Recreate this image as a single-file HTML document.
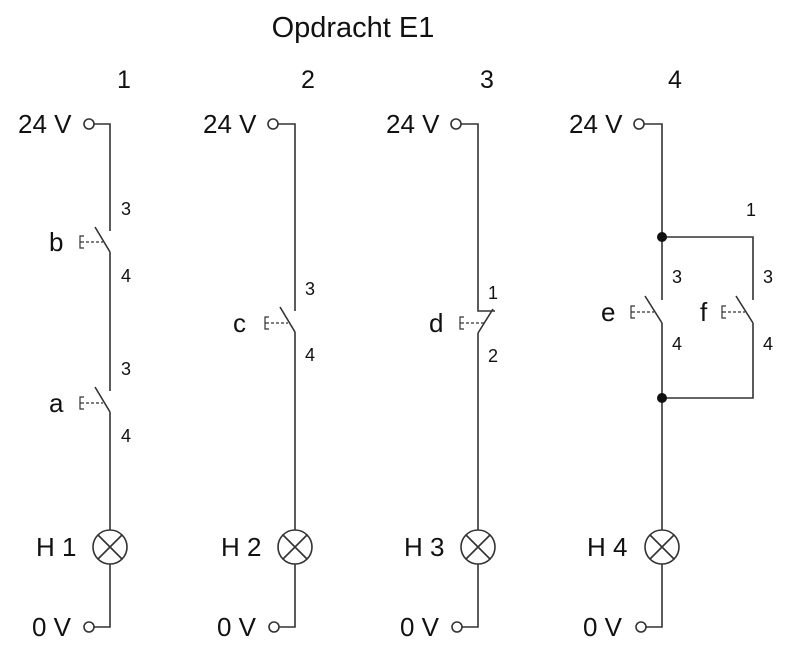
<!DOCTYPE html>
<html><head><style>body{margin:0;background:#fff}svg{display:block}</style></head><body>
<svg width="800" height="660" viewBox="0 0 800 660" xmlns="http://www.w3.org/2000/svg" font-family="Liberation Sans, Arial, sans-serif" fill="#111">
<rect width="800" height="660" fill="#fff"/>
<text x="353" y="37" font-size="29" text-anchor="middle">Opdracht E1</text>
<g font-size="25" text-anchor="middle">
<text x="124" y="88">1</text><text x="308" y="88">2</text><text x="487" y="88">3</text><text x="675" y="88">4</text>
</g>
<g font-size="26">
<text x="18" y="133">24 V</text><text x="203" y="133">24 V</text><text x="386" y="133">24 V</text><text x="569" y="133">24 V</text>
<text x="32" y="636">0 V</text><text x="217" y="636">0 V</text><text x="400" y="636">0 V</text><text x="583" y="636">0 V</text>
<text x="36" y="556">H 1</text><text x="221" y="556">H 2</text><text x="404" y="556">H 3</text><text x="587" y="556">H 4</text>
<text x="49" y="251">b</text><text x="49" y="412">a</text><text x="233" y="332">c</text><text x="429" y="332">d</text>
<text x="601" y="321">e</text><text x="700" y="321">f</text>
</g>
<g font-size="18">
<text x="121" y="215">3</text><text x="121" y="282">4</text>
<text x="121" y="375">3</text><text x="121" y="442">4</text>
<text x="305" y="295">3</text><text x="305" y="361">4</text>
<text x="488" y="299">1</text><text x="488" y="362">2</text>
<text x="672" y="283">3</text><text x="672" y="350">4</text>
<text x="763" y="283">3</text><text x="763" y="350">4</text>
<text x="746" y="216">1</text>
</g>
<g stroke="#333" stroke-width="1.6" fill="none">
<circle cx="89" cy="124" r="5"/><path d="M94 124H110V231M95 227L110 252M110 252V391M95 387L110 412M110 412V530"/>
<circle cx="110" cy="547" r="17"/><path d="M98 535L122 559M122 535L98 559M110 564V627H94"/><circle cx="89" cy="627" r="5"/>
<circle cx="273" cy="124" r="5"/><path d="M278 124H295V311M280 307L295 332M295 332V530"/>
<circle cx="295" cy="547" r="17"/><path d="M283 535L307 559M307 535L283 559M295 564V627H279"/><circle cx="274" cy="627" r="5"/>
<circle cx="456" cy="124" r="5"/><path d="M461 124H478V311H495M493 309L478 333M478 333V530"/>
<circle cx="478" cy="547" r="17"/><path d="M466 535L490 559M490 535L466 559M478 564V627H462"/><circle cx="457" cy="627" r="5"/>
<circle cx="639" cy="124" r="5"/><path d="M644 124H662V300M645 296L662 323M662 323V530M662 237H753V300M736 296L753 323M753 323V398H662"/>
<circle cx="662" cy="547" r="17"/><path d="M650 535L674 559M674 535L650 559M662 564V627H646"/><circle cx="641" cy="627" r="5"/>
</g>
<circle cx="662" cy="237" r="5"/><circle cx="662" cy="398" r="5"/>
<g stroke="#333" stroke-width="1.2" fill="none">
<path d="M84 236H80V248H84M80 242H84" /><path d="M86 242H103" stroke-dasharray="3,2"/>
<path d="M84 397H80V409H84M80 403H84" /><path d="M86 403H103" stroke-dasharray="3,2"/>
<path d="M269 317H265V329H269M265 323H269" /><path d="M271 323H288" stroke-dasharray="3,2"/>
<path d="M464 317H460V329H464M460 323H464" /><path d="M466 323H485" stroke-dasharray="3,2"/>
<path d="M635 306H631V318H635M631 312H635" /><path d="M637 312H654" stroke-dasharray="3,2"/>
<path d="M726 306H722V318H726M722 312H726" /><path d="M728 312H745" stroke-dasharray="3,2"/>
</g>
</svg>
</body></html>
